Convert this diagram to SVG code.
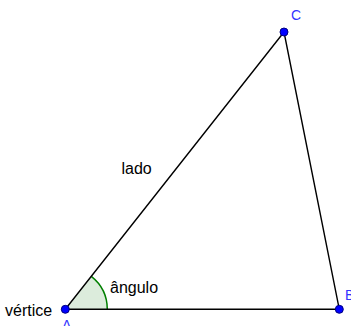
<svg xmlns="http://www.w3.org/2000/svg" width="351" height="326" viewBox="0 0 351 326">
<style>
.edge{stroke:#000;stroke-width:1.4;fill:none;stroke-linecap:round}
.pt{fill:#0000ff;stroke:#00007f;stroke-width:1}
.lbl{font-family:"Liberation Sans",Arial,sans-serif;font-size:14px;fill:#3333ff}
.txt{font-family:"Liberation Sans",Arial,sans-serif;font-size:16px;fill:#000}
</style>
<rect width="351" height="326" fill="#fff"/>
<g id="angle">
<path d="M65.3,309.3 L107.3,309.3 A42,42 0 0 0 91.3,276.4 Z" fill="#dcecdc" stroke="none"/>
<path d="M107.3,309.3 A42,42 0 0 0 91.3,276.4" fill="none" stroke="#007f00" stroke-width="1.5"/>
<text class="txt" x="110" y="293">ângulo</text>
</g>
<g id="connectors">
<line class="edge" x1="65.3" y1="309.3" x2="339.3" y2="309.3"/>
<line class="edge" x1="65.3" y1="309.3" x2="284" y2="32"/>
<line class="edge" x1="284" y1="32" x2="339.3" y2="309.3"/>
<text class="txt" x="121.5" y="174">lado</text>
</g>
<g id="A">
<circle class="pt" cx="65.3" cy="309.3" r="4"/>
<text class="lbl" x="62" y="330">A</text>
<text class="txt" x="5" y="316">vértice</text>
</g>
<g id="B">
<circle class="pt" cx="339.3" cy="309.3" r="4"/>
<text class="lbl" x="345" y="300">B</text>
</g>
<g id="C">
<circle class="pt" cx="284" cy="32" r="4"/>
<text class="lbl" x="291" y="20">C</text>
</g>
</svg>
